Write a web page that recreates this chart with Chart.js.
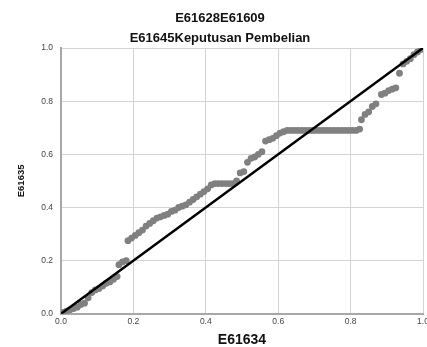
<!DOCTYPE html>
<html>
<head>
<meta charset="utf-8">
<script src="https://cdn.jsdelivr.net/npm/chart.js@4"></script>
<style>
  html, body { margin: 0; padding: 0; background: #fff; }
  #wrap { width: 427px; height: 347px; }
</style>
</head>
<body>
<div id="wrap"><canvas id="chart" width="427" height="347"></canvas></div>
<script>
const observed = [
  0.005, 0.015, 0.025, 0.035, 0.045, 0.055, 0.065, 0.075, 0.085, 0.095,
  0.105, 0.115, 0.125, 0.135, 0.145, 0.155, 0.16, 0.17, 0.18,
  0.185, 0.195, 0.205, 0.215, 0.225, 0.235, 0.245, 0.255, 0.265, 0.275,
  0.285, 0.295, 0.305, 0.315, 0.325, 0.335, 0.345, 0.355, 0.365, 0.375,
  0.385, 0.395, 0.405, 0.415, 0.425, 0.435, 0.445, 0.455, 0.465, 0.475,
  0.485, 0.495, 0.505, 0.515, 0.525, 0.535, 0.545, 0.555, 0.565, 0.575,
  0.585, 0.595, 0.605, 0.615, 0.625, 0.635, 0.645, 0.655, 0.665, 0.675,
  0.685, 0.695, 0.705, 0.715, 0.725, 0.735, 0.745, 0.755, 0.765, 0.775,
  0.785, 0.795, 0.805, 0.815, 0.825, 0.83, 0.84, 0.85, 0.86, 0.87,
  0.885, 0.895, 0.905, 0.915, 0.925, 0.935, 0.945, 0.955, 0.965, 0.975,
  0.985, 0.995
];
const expected = [
  0.005, 0.01, 0.015, 0.02, 0.025, 0.035, 0.04, 0.06, 0.08, 0.09,
  0.095, 0.105, 0.115, 0.12, 0.13, 0.14, 0.185, 0.195, 0.2,
  0.275, 0.285, 0.295, 0.305, 0.315, 0.33, 0.34, 0.35, 0.36, 0.365,
  0.37, 0.375, 0.385, 0.39, 0.4, 0.405, 0.41, 0.42, 0.43, 0.44,
  0.45, 0.46, 0.47, 0.485, 0.49, 0.49, 0.49, 0.49, 0.49, 0.49,
  0.5, 0.53, 0.535, 0.57, 0.585, 0.59, 0.6, 0.61, 0.65, 0.655,
  0.66, 0.67, 0.68, 0.685, 0.69, 0.69, 0.69, 0.69, 0.69, 0.69,
  0.69, 0.69, 0.69, 0.69, 0.69, 0.69, 0.69, 0.69, 0.69, 0.69,
  0.69, 0.69, 0.69, 0.69, 0.695, 0.73, 0.75, 0.76, 0.78, 0.79,
  0.825, 0.83, 0.84, 0.845, 0.85, 0.905, 0.94, 0.95, 0.96, 0.975,
  0.985, 0.995
];
const refLineX = [0, 1];
const refLineY = [0, 1];
const tickValues = [0, 0.2, 0.4, 0.6, 0.8, 1.0];

const titleLines = ["E61628E61609", "E61645Keputusan Pembelian"];
const xTitle = "E61634";
const yTitle = "E61635";

const points = observed.map((v, i) => ({ x: v, y: expected[i] }));
const refLine = refLineX.map((v, i) => ({ x: v, y: refLineY[i] }));

const font = "Arial, 'Liberation Sans', sans-serif";
const gridColor = "#d4d4d4";

new Chart(document.getElementById("chart"), {
  type: "scatter",
  data: {
    datasets: [
      {
        type: "line",
        data: refLine,
        borderColor: "#000",
        borderWidth: 2.5,
        pointRadius: 0,
        fill: false
      },
      {
        data: points,
        backgroundColor: "#808080",
        borderWidth: 0,
        pointRadius: 3.4
      }
    ]
  },
  options: {
    responsive: false,
    animation: false,
    layout: { padding: { left: 16, right: 3, top: 0, bottom: 0 } },
    plugins: {
      legend: { display: false },
      tooltip: { enabled: false },
      title: {
        display: true,
        text: titleLines,
        color: "#111",
        font: { family: font, size: 13, weight: "bold", lineHeight: 1.5 },
        padding: { top: 9, bottom: 0 }
      }
    },
    scales: {
      x: {
        type: "linear",
        min: 0, max: 1,
        afterBuildTicks: s => { s.ticks = tickValues.map(v => ({ value: v })); },
        afterFit: s => { s.paddingRight = 0; s.paddingLeft = 0; },
        ticks: {
          color: "#444",
          font: { family: font, size: 8.5 },
          padding: 3,
          maxRotation: 0,
          callback: v => v.toFixed(1)
        },
        grid: { color: gridColor, drawTicks: false },
        border: { color: "#a8a8a8", width: 2 },
        title: {
          display: true,
          text: xTitle,
          color: "#111",
          font: { family: font, size: 14, weight: "bold", lineHeight: 1 },
          padding: { top: 3, bottom: 0 }
        }
      },
      y: {
        type: "linear",
        min: 0, max: 1,
        afterBuildTicks: s => { s.ticks = tickValues.map(v => ({ value: v })); },
        afterFit: s => { s.width = 45; s.paddingTop = 0; },
        ticks: {
          color: "#444",
          font: { family: font, size: 8.5 },
          padding: 8,
          callback: v => v.toFixed(1)
        },
        grid: { color: gridColor, drawTicks: false },
        border: { color: "#a8a8a8", width: 2 },
        title: {
          display: true,
          text: yTitle,
          color: "#111",
          font: { family: font, size: 9.5, weight: "bold" },
          padding: { top: 0, bottom: 0 }
        }
      }
    }
  }
});
</script>
</body>
</html>
